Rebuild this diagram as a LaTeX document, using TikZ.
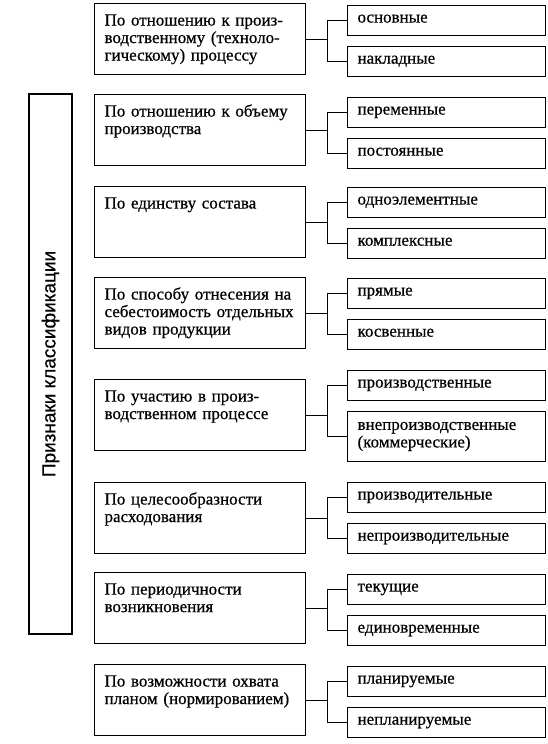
\documentclass[tikz,border=0pt]{standalone}
\usepackage{fontspec}
\setmainfont{Liberation Serif}
\newfontfamily\boxfont[FakeBold=0.6]{Liberation Serif}
\newfontfamily\signfont[FakeBold=0.4]{Liberation Sans}
\usetikzlibrary{positioning}

\tikzset{
  crit/.style={draw, line width=1.1pt, anchor=north west, text width=191pt, align=left,
    inner xsep=10pt, inner ysep=0pt, text height=22pt, text depth=49pt,
    font=\boxfont\fontsize{17}{17.5}\selectfont},
  leaf/.style={draw, line width=1.1pt, anchor=north west, text width=178pt, align=left,
    inner xsep=10pt, inner ysep=2pt, minimum height=30pt, text depth=4pt,
    font=\boxfont\fontsize{17}{17.5}\selectfont},
}

\begin{document}
\begin{tikzpicture}[x=1pt, y=-1pt]
    \useasboundingbox (0,0) rectangle (548,744);
    % vertical title box
    \node[draw, line width=1.1pt, rotate=90, minimum width=540pt, minimum height=43pt,
      font=\signfont\fontsize{19}{22}\selectfont] (sign) at (50.5,364) {Признаки классификации};
    % criteria
    \node[crit] (p1) at (94,3) {По отношению к произ-\\водственному (техноло-\\гическому) процессу};
    \node[crit] (p2) at (94,94) {По отношению к объему\\производства};
    \node[crit] (p3) at (94,186) {По единству состава};
    \node[crit] (p4) at (94,277) {По способу отнесения на\\себестоимость отдельных\\видов продукции};
    \node[crit] (p5) at (94,379) {По участию в произ-\\водственном процессе};
    \node[crit] (p6) at (94,482) {По целесообразности\\расходования};
    \node[crit] (p7) at (94,572) {По периодичности\\возникновения};
    \node[crit] (p8) at (94,664) {По возможности охвата\\планом (нормированием)};
    % kinds of costs
    \node[leaf] (a1) at (347,5) {основные};
    \node[leaf, below=10pt of a1] (b1) {накладные};
    \node[leaf] (a2) at (347,97) {переменные};
    \node[leaf, below=10pt of a2] (b2) {постоянные};
    \node[leaf] (a3) at (347,187) {одноэлементные};
    \node[leaf, below=10pt of a3] (b3) {комплексные};
    \node[leaf] (a4) at (347,278) {прямые};
    \node[leaf, below=10pt of a4] (b4) {косвенные};
    \node[leaf] (a5) at (347,370) {производственные};
    \node[leaf, below=10pt of a5, minimum height=50pt, text depth=21.5pt] (b5) {внепроизводственные\\(коммерческие)};
    \node[leaf] (a6) at (347,482) {производительные};
    \node[leaf, below=10pt of a6] (b6) {непроизводительные};
    \node[leaf] (a7) at (347,574) {текущие};
    \node[leaf, below=10pt of a7] (b7) {единовременные};
    \node[leaf] (a8) at (347,666) {планируемые};
    \node[leaf, below=10pt of a8] (b8) {непланируемые};
    % brackets
    \foreach \i in {1,...,8}{
      \draw[line width=1.1pt] (p\i.east) -- ++(21,0) |- (a\i.west);
      \draw[line width=1.1pt] (p\i.east) ++(21,0) |- (b\i.west);
    }
\end{tikzpicture}
\end{document}
